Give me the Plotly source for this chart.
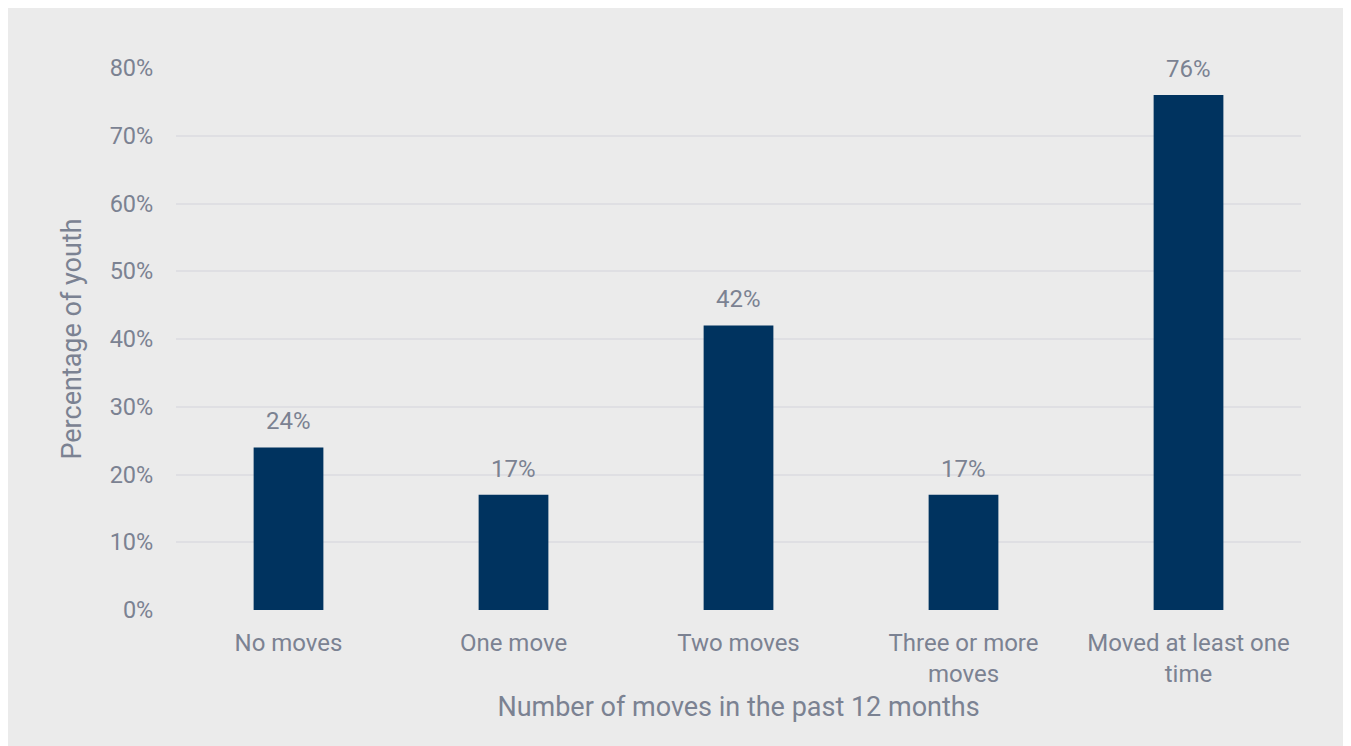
import plotly.graph_objects as go

categories = ["No moves", "One move", "Two moves", "Three or more<br>moves", "Moved at least one<br>time"]
values = [24, 17, 42, 17, 76]
value_labels = ["24%", "17%", "42%", "17%", "76%"]
y_ticks = [0, 10, 20, 30, 40, 50, 60, 70, 80]
y_tick_labels = ["0%", "10%", "20%", "30%", "40%", "50%", "60%", "70%", "80%"]

text_color = "#7b8292"
bg = "#ebebeb"

fig = go.Figure(go.Bar(
    x=categories, y=values,
    marker=dict(color="#00335f", line=dict(width=0)),
    cliponaxis=False,
))

for c, v, t in zip(categories, values, value_labels):
    fig.add_annotation(x=c, y=v, text=t, showarrow=False, yanchor="bottom", yshift=10,
                       font=dict(family="Roboto", size=24, color=text_color))

fig.update_layout(
    width=1363, height=748,
    paper_bgcolor=bg, plot_bgcolor=bg,
    margin=dict(l=168, r=70, t=60, b=146),
    bargap=0.69,
    font=dict(family="Roboto", color=text_color),
    showlegend=False,
    xaxis=dict(
        tickfont=dict(size=24, color=text_color),
        title=dict(text="Number of moves in the past 12 months", font=dict(size=27, color=text_color), standoff=10),
        ticks="outside", ticklen=11, tickcolor="rgba(0,0,0,0)",
        showgrid=False, zeroline=False, showline=False,
    ),
    yaxis=dict(
        range=[0, 80], tickvals=y_ticks, ticktext=y_tick_labels,
        tickfont=dict(size=23.5, color=text_color),
        title=dict(text="Percentage of youth", font=dict(size=27, color=text_color), standoff=20),
        ticks="outside", ticklen=17, tickcolor="rgba(0,0,0,0)",
        showgrid=True, gridcolor="#dfdfe3", gridwidth=2,
        zeroline=False, showline=False,
    ),
)

fig.write_html("out.html", post_script="document.body.style.overflow='hidden';")
